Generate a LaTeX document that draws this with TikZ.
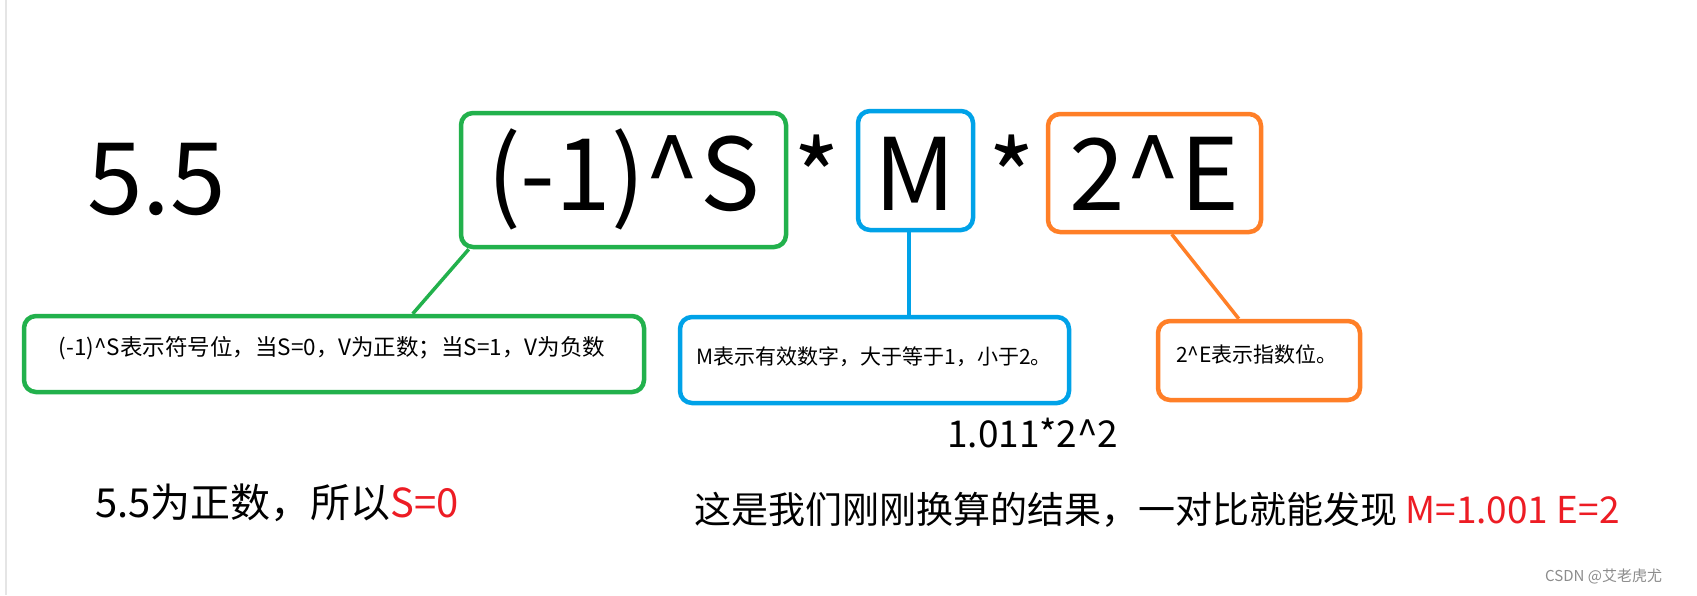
\documentclass[tikz,border=0pt]{standalone}
\usepackage{fontspec}
\setmainfont{Noto Sans CJK SC}
\definecolor{pgreen}{HTML}{22B14C}
\definecolor{pblue}{HTML}{00A2E8}
\definecolor{porange}{HTML}{FF7F27}
\definecolor{pred}{HTML}{ED1C24}
\tikzset{
  bigbox/.style={draw=#1, line width=4.5pt, rounded corners=12pt, inner sep=0pt, rectangle},
  link/.style={draw=#1, line width=3.5pt},
  bigtxt/.style={anchor=base, inner sep=0pt, font=\fontsize{100}{110}\selectfont},
  smalltxt/.style={anchor=base, inner sep=0pt, font=\fontsize{21}{25}\selectfont},
}
\begin{document}
\begin{tikzpicture}[x=1pt,y=-1pt]
\useasboundingbox (0,0) rectangle (1697,595);
\fill[white] (0,0) rectangle (1697,595);
\draw[line width=2pt, draw=black!10] (6,0) -- (6,595);

% top row
\node[bigtxt, anchor=base west] (five) at (87,214) {5.5};
\node[bigbox=pgreen, minimum width=325pt, minimum height=134pt] (g) at (623.5,180) {};
\node[bigtxt] (gt) at (623.5,210) {(-1)\^{}S};
\node[bigtxt] (s1) at (817,214) {*};
\node[bigbox=pblue, minimum width=115pt, minimum height=119pt] (b) at (915.5,170.5) {};
\node[bigtxt] (bt) at (915.5,210) {M};
\node[bigtxt] (s2) at (1012,214) {*};
\node[bigbox=porange, minimum width=213pt, minimum height=118pt] (o) at (1154.5,173) {};
\node[bigtxt] (ot) at (1154.5,210) {2\^{}E};

% lower boxes
\node[bigbox=pgreen, minimum width=620pt, minimum height=76pt] (gl) at (334,354) {};
\node[smalltxt, font=\fontsize{22.5}{26}\selectfont] (glt) at (332,355) {(-1)\^{}S表示符号位，当S=0，V为正数；当S=1，V为负数};
\node[bigbox=pblue, minimum width=389pt, minimum height=86pt] (bl) at (874.5,360) {};
\node[smalltxt] (blt) at (874,364) {M表示有效数字，大于等于1，小于2。};
\node[bigbox=porange, minimum width=202pt, minimum height=79pt] (ol) at (1259,360.5) {};
\node[smalltxt] (olt) at (1257,362) {2\^{}E表示指数位。};

% connectors
\draw[link=pgreen] ([xshift=10pt]g.south west) -- ([xshift=391pt]gl.north west);
\draw[link=pblue] ([xshift=-6.5pt]b.south) -- ([xshift=34.5pt]bl.north);
\draw[link=porange] ([xshift=126pt]o.south west) -- ([xshift=83pt]ol.north west);

% other texts
\node[anchor=base west, inner sep=0pt, font=\fontsize{37}{44}\selectfont] (calc) at (947,447) {1.011*2\^{}2};
\node[anchor=base west, inner sep=0pt, font=\fontsize{40}{48}\selectfont] (pos) at (95,517) {5.5为正数，所以\textcolor{pred}{S=0}};
\node[anchor=base west, inner sep=0pt, font=\fontsize{37}{44}\selectfont] (res) at (694,523) {这是我们刚刚换算的结果，一对比就能发现 \textcolor{pred}{M=1.001 E=2}};
\node[anchor=base west, inner sep=0pt, text=black!45, font=\fontsize{15}{18}\selectfont] (wm) at (1545,581) {CSDN @艾老虎尤};
\end{tikzpicture}
\end{document}
